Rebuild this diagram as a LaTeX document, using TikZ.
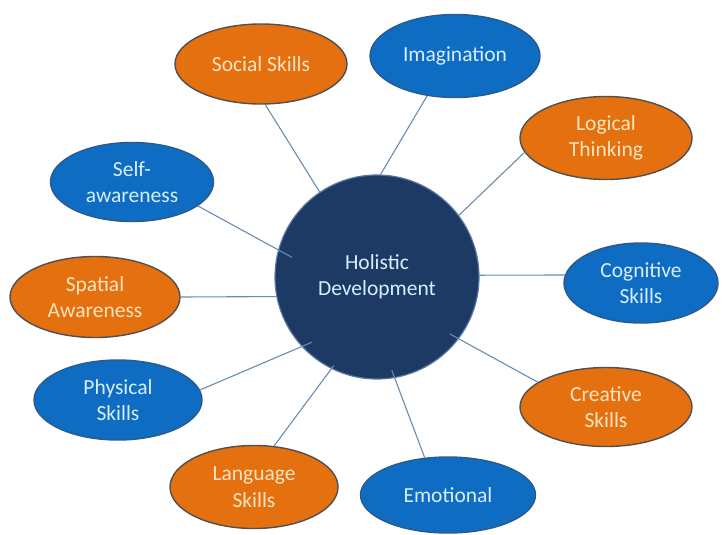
\documentclass[tikz,border=0pt]{standalone}
\usepackage{fontspec}
\setmainfont{Carlito}
\usetikzlibrary{shapes.geometric,calc}
\definecolor{orgfill}{HTML}{E4700F}
\definecolor{orgline}{HTML}{505050}
\definecolor{orgtext}{HTML}{FCE4C0}
\definecolor{blufill}{HTML}{0E6CC2}
\definecolor{bluline}{HTML}{2C5A8C}
\definecolor{blutext}{HTML}{D8EEFF}
\definecolor{navy}{HTML}{1C3A63}
\definecolor{navyline}{HTML}{5877A0}
\definecolor{linkcol}{HTML}{6A8CAE}
\begin{document}
\begin{tikzpicture}[x=1pt,y=-1pt,
  every node/.style={font=\fontsize{21.5}{26.5}\selectfont, align=center, inner sep=0pt},
  bub/.style={ellipse, line width=1.4pt},
  orgbub/.style={bub, fill=orgfill, draw=orgline, text=orgtext},
  blubub/.style={bub, fill=blufill, draw=bluline, text=blutext},
  hub/.style={circle, fill=navy, draw=navyline, line width=1.2pt, text=blutext, minimum size=204pt, font=\fontsize{21.5}{26}\selectfont},
  link/.style={draw=linkcol, line width=1.1pt}]
\useasboundingbox (0,0) rectangle (725,535);
\fill[white] (0,0) rectangle (725,535);

\node[hub] (hd) at (377,277) {Holistic\\Development};

\node[orgbub, minimum width=172pt, minimum height=80pt] (soc) at (261,64) {Social Skills};
\node[blubub, minimum width=170pt, minimum height=83pt] (ima) at (455,56) {Imagination};
\node[orgbub, minimum width=172pt, minimum height=83pt] (log) at (606,138) {Logical\\Thinking};
\node[blubub, minimum width=163pt, minimum height=79pt] (slf) at (132,182) {Self-\\awareness};
\node[blubub, minimum width=154pt, minimum height=80pt] (cog) at (641,283) {Cognitive\\Skills};
\node[orgbub, minimum width=170pt, minimum height=81pt] (spa) at (95,297) {Spatial\\Awareness};
\node[blubub, minimum width=168pt, minimum height=80pt] (phy) at (118,400) {Physical\\Skills};
\node[orgbub, minimum width=172pt, minimum height=79pt] (cre) at (606,407) {Creative\\Skills};
\node[orgbub, minimum width=168pt, minimum height=83pt] (lan) at (254,487) {Language\\Skills};
\node[blubub, minimum width=175pt, minimum height=76pt] (emo) at (448,495) {Emotional};

\draw[link] (soc.-84) -- (hd.124);
\draw[link] (ima.235) -- (hd.88);
\draw[link] (log.190) -- (hd.37);
\draw[link] (slf.-20) -- ($(hd.center)!0.85!(hd.167)$);
\draw[link] (spa.0) -- (hd.191);
\draw[link] (cog.174) -- (hd.1);
\draw[link] (phy.7) -- ($(hd.center)!0.9!(hd.225)$);
\draw[link] (cre.160) -- ($(hd.center)!0.9!(hd.-38)$);
\draw[link] (lan.64) -- ($(hd.center)!0.96!(hd.244)$);
\draw[link] (emo.122) -- ($(hd.center)!0.92!(hd.279)$);
\end{tikzpicture}
\end{document}
